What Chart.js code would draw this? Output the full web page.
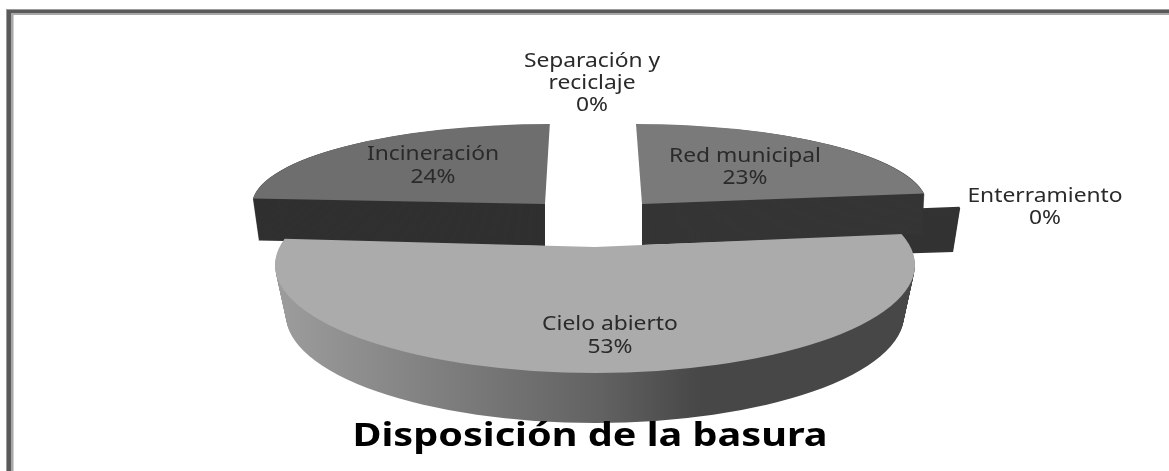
<!DOCTYPE html>
<html><head><meta charset="utf-8">
<style>html,body{margin:0;padding:0;background:#fff;overflow:hidden}canvas{display:block;filter:blur(.45px)}</style>
<script src="https://cdn.jsdelivr.net/npm/chart.js@4"></script>
</head><body><canvas id="c" width="1169" height="471"></canvas>
<script>
const categories = ["Red municipal","Enterramiento","Cielo abierto","Incineración","Separación y reciclaje"];
const values = [23,0.4,53,24,0.01];
const percentLabels = ["23%","0%","53%","24%","0%"];
const titleText = "Disposición de la basura";

// Appearance of each slice, in data order: where it sits in the 3D view.
const views = [
 {cx:642,cy:204,rx:285,ry:80,rxEnd:283,depth:41,skew:-6,top:"#7a7a7a",side:"#353535"},
 {cx:666,cy:218,rx:296,ry:85,rxEnd:289,depth:43,skew:0,top:"#333333",side:"#333333"},
 {cx:595,cy:247,rx:345,ry:135,rxEnd:345,depth:50,skew:0,top:"#ababab",side:"grad",
  clip:{cx:595,cy:265,rx:320,ry:108,rxEnd:309}},
 {cx:545,cy:204,rx:293,ry:80,rxEnd:287,depth:42,skew:5,top:"#6e6e6e",side:"#303030"},
 null
];
const drawOrder = [1,0,3,2];
const sideStops = [[280,"#9c9c9c"],[600,"#626262"],[700,"#474747"],[915,"#474747"]];
const labelSpots = [
 {x:745,y:157,dy:22},{x:1045,y:197,dy:22},{x:610,y:325,dy:23},{x:433,y:155,dy:23},{x:592,y:62,dy:22}
];
const labelFont = '400 19px "Noto Sans"';
const titleFont = '700 33px "Noto Sans"';
const stretchX = 1.2;

function placeArc(ctx,arc,v,rx,yShift,skew){
  const R = arc.outerRadius;
  ctx.translate(v.cx, v.cy + yShift);
  ctx.transform(rx/R, 0, -skew/R, v.ry/R, 0, 0);
  ctx.translate(-arc.x, -arc.y);
}
function paintLayer(ctx,arc,v,t,yShift,fill,skew){
  const rx = v.rx + (v.rxEnd - v.rx)*t;
  ctx.save();
  if(v.clip){
    const c=v.clip;
    ctx.beginPath();
    ctx.ellipse(c.cx,c.cy+yShift,c.rx+(c.rxEnd-c.rx)*t,c.ry,0,0,Math.PI*2);
    ctx.clip();
  }
  placeArc(ctx,arc,v,rx,yShift,skew);
  const base = arc.options;
  let style = fill;
  if(fill==="grad"){
    const sx = rx/arc.outerRadius;
    const toLocal = px => arc.x + (px - v.cx)/sx;
    const a=sideStops[0][0], b=sideStops[sideStops.length-1][0];
    style = ctx.createLinearGradient(toLocal(a),0,toLocal(b),0);
    sideStops.forEach(s=>style.addColorStop((s[0]-a)/(b-a),s[1]));
  }
  arc.options = Object.assign({},base,{backgroundColor:style,borderWidth:0});
  arc.draw(ctx);
  arc.options = base;
  ctx.restore();
}
function stretched(ctx,text,x,y,font,color,baseline){
  ctx.save();
  ctx.font=font; ctx.fillStyle=color; ctx.textAlign="center"; ctx.textBaseline=baseline;
  ctx.translate(x,y); ctx.scale(stretchX,1);
  ctx.fillText(text,0,0);
  ctx.restore();
}
const scene = {
  id:"scene",
  beforeDraw(chart){
    const ctx=chart.ctx, W=chart.width, H=chart.height;
    ctx.save();
    ctx.fillStyle="#fff"; ctx.fillRect(0,0,W,H);
    ctx.fillStyle="#9c9c9c"; ctx.fillRect(6,9,W-6,1); ctx.fillRect(6,9,1,H-9);
    ctx.fillStyle="#d0d0d0"; ctx.fillRect(12,15,2,H-15);
    ctx.fillStyle="#a8a8a8"; ctx.fillRect(11,13,W-11,2); ctx.fillRect(11,13,2,H-13);
    ctx.fillStyle="#5a5a5a"; ctx.fillRect(7,10,W-7,3); ctx.fillRect(7,10,4,H-10);
    ctx.restore();
  },
  beforeDatasetsDraw(chart){
    const ctx=chart.ctx, arcs=chart.getDatasetMeta(0).data;
    drawOrder.forEach(i=>{
      const v=views[i], arc=arcs[i];
      for(let d=v.depth;d>=1;d--) paintLayer(ctx,arc,v,d/v.depth,d,v.side,0);
      paintLayer(ctx,arc,v,0,0,v.top,v.skew);
    });
    return false;
  },
  afterDraw(chart){
    const ctx=chart.ctx;
    categories.forEach((name,i)=>{
      const s=labelSpots[i];
      const lines = name==="Separación y reciclaje" ? ["Separación y","reciclaje"] : [name];
      lines.concat(percentLabels[i]).forEach((t,k)=>
        stretched(ctx,t,s.x,s.y+k*s.dy,labelFont,"#2a2a2a","middle"));
    });
    stretched(ctx,titleText,590,446,titleFont,"#000","alphabetic");
  }
};
new Chart(document.getElementById("c"),{
  type:"pie",
  data:{labels:categories,datasets:[{data:values,backgroundColor:views.map(v=>v?v.top:"#000"),borderWidth:0}]},
  options:{responsive:false,animation:false,events:[],
    plugins:{legend:{display:false},tooltip:{enabled:false},title:{display:false,text:titleText}}},
  plugins:[scene]
});
</script></body></html>
